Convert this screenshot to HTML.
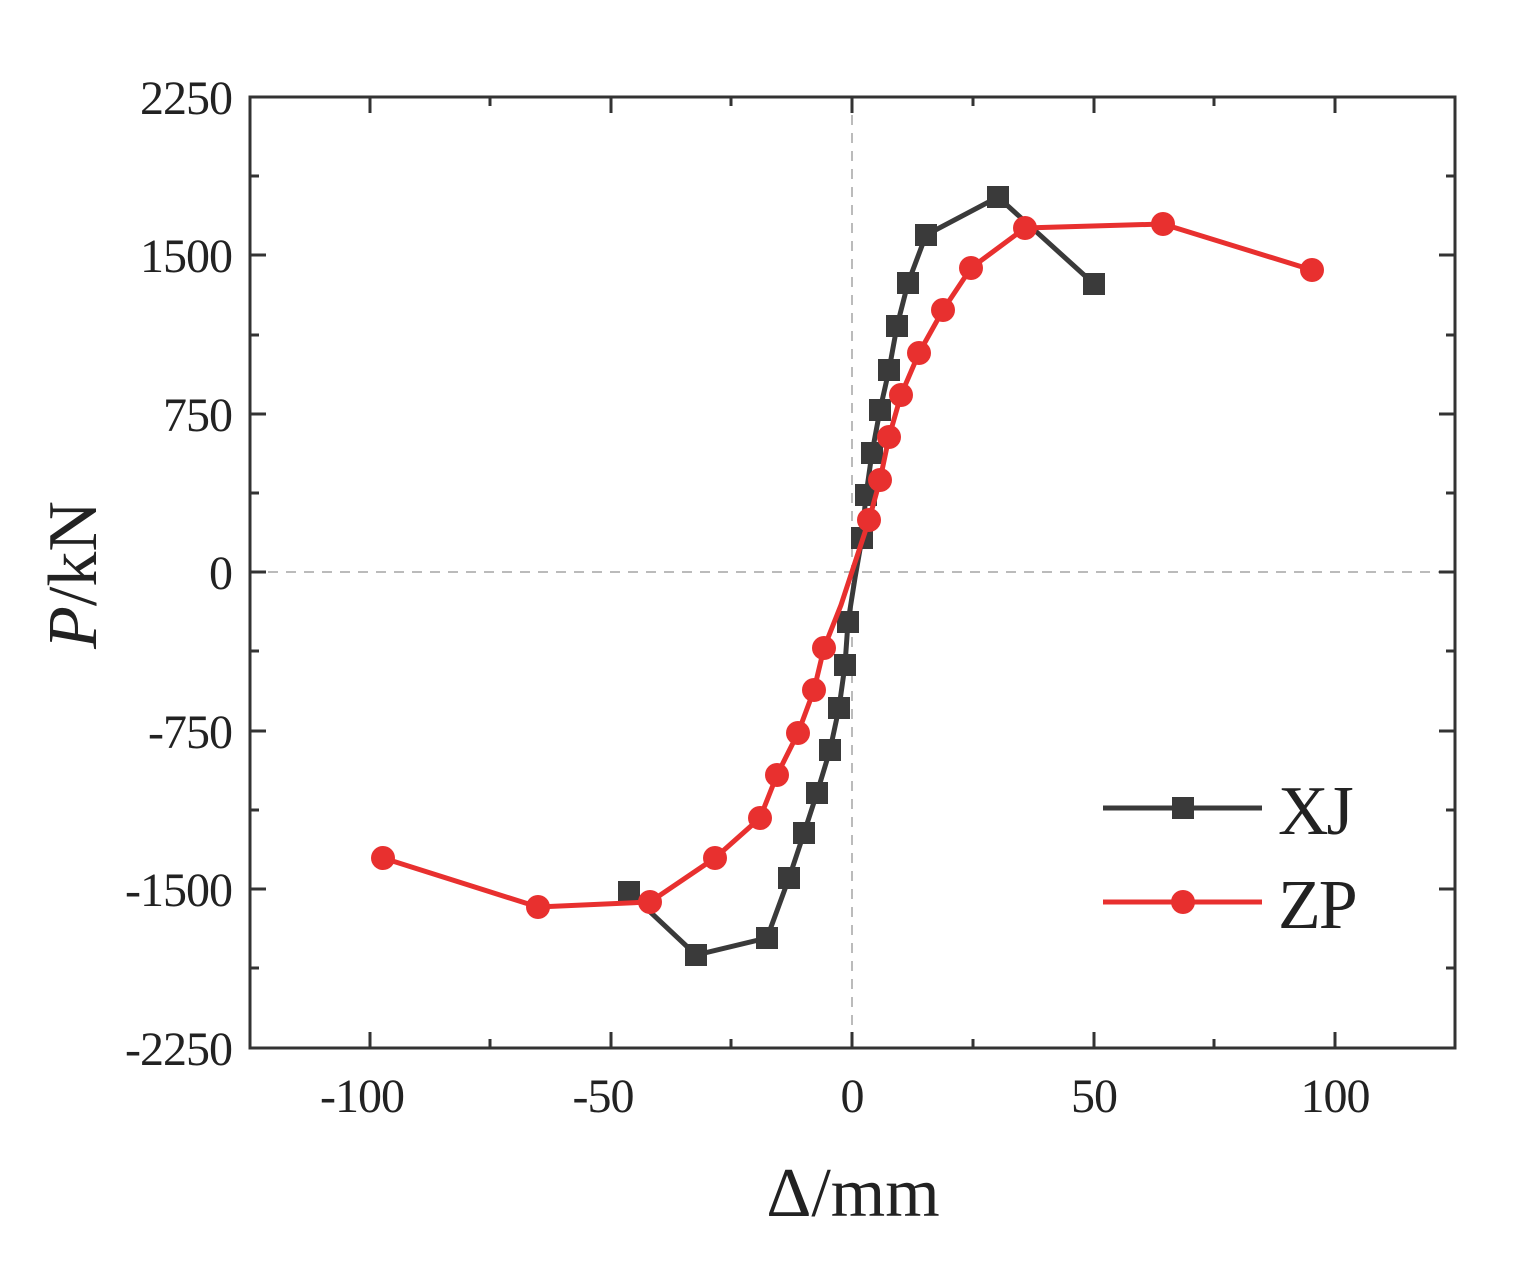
<!DOCTYPE html>
<html><head><style>body{margin:0;background:#fff}svg{display:block}</style></head><body>
<svg width="1519" height="1276" xmlns="http://www.w3.org/2000/svg" font-family="Liberation Serif, serif">
<rect width="1519" height="1276" fill="#fff"/>
<g stroke="#bbb" stroke-width="2" stroke-dasharray="10,8">
<line x1="852" y1="97" x2="852" y2="1048"/><line x1="250" y1="572" x2="1455" y2="572"/>
</g>
<rect x="250" y="97" width="1205" height="951" fill="none" stroke="#333" stroke-width="3"/>
<g stroke="#333" stroke-width="3">
<path d="M370 1048v-16M611 1048v-16M852 1048v-16M1094 1048v-16M1335 1048v-16M370 97v16M611 97v16M852 97v16M1094 97v16M1335 97v16
M490 1048v-9M731 1048v-9M973 1048v-9M1214 1048v-9M490 97v9M731 97v9M973 97v9M1214 97v9
M250 97h16M250 255h16M250 414h16M250 572h16M250 731h16M250 889h16M250 1048h16M1455 255h-16M1455 414h-16M1455 572h-16M1455 731h-16M1455 889h-16
M250 176h9M250 335h9M250 493h9M250 651h9M250 810h9M250 968h9M1455 176h-9M1455 335h-9M1455 493h-9M1455 651h-9M1455 810h-9M1455 968h-9"/>
</g>
<g font-size="48" fill="#222" text-anchor="end" letter-spacing="-1">
<text x="232" y="114">2250</text><text x="232" y="272">1500</text><text x="232" y="431">750</text><text x="232" y="589">0</text>
<text x="232" y="748">-750</text><text x="232" y="906">-1500</text><text x="232" y="1065">-2250</text>
</g>
<g font-size="48" fill="#222" text-anchor="middle" letter-spacing="-1">
<text x="362" y="1112">-100</text><text x="603" y="1112">-50</text><text x="852" y="1112">0</text><text x="1094" y="1112">50</text><text x="1335" y="1112">100</text>
</g>
<text x="853" y="1216" font-size="70" text-anchor="middle" fill="#222">Δ/mm</text>
<text transform="translate(96,575) rotate(-90)" font-size="70" text-anchor="middle" fill="#222"><tspan font-style="italic">P</tspan>/kN</text>
<polyline fill="none" stroke="#3a3a3a" stroke-width="5" points="629,892 696,955 767,938 789,878 804,833 817,793 830,750 839,708 845,665 848,622 855,578 862,538 866,495 872,453 880,410 889,370 897,326 908,283 926,235 998,197 1094,284"/>
<g fill="#3a3a3a">
<path d="M629,892m-11,-11h22v22h-22zM696,955m-11,-11h22v22h-22zM767,938m-11,-11h22v22h-22zM789,878m-11,-11h22v22h-22zM804,833m-11,-11h22v22h-22zM817,793m-11,-11h22v22h-22zM830,750m-11,-11h22v22h-22zM839,708m-11,-11h22v22h-22zM845,665m-11,-11h22v22h-22zM848,622m-11,-11h22v22h-22zM862,538m-11,-11h22v22h-22zM866,495m-11,-11h22v22h-22zM872,453m-11,-11h22v22h-22zM880,410m-11,-11h22v22h-22zM889,370m-11,-11h22v22h-22zM897,326m-11,-11h22v22h-22zM908,283m-11,-11h22v22h-22zM926,235m-11,-11h22v22h-22zM998,197m-11,-11h22v22h-22zM1094,284m-11,-11h22v22h-22z"/>
</g>
<polyline fill="none" stroke="#e8302f" stroke-width="5" points="383,858 538,907 650,902 715,858 760,818 777,775 798,733 814,690 824,648 841,605 869,520 880,480 889,437 901,395 919,353 943,310 971,268 1025,228 1163,224 1312,270"/>
<g fill="#e8302f">
<circle cx="383" cy="858" r="12"/><circle cx="538" cy="907" r="12"/><circle cx="650" cy="902" r="12"/><circle cx="715" cy="858" r="12"/><circle cx="760" cy="818" r="12"/><circle cx="777" cy="775" r="12"/><circle cx="798" cy="733" r="12"/><circle cx="814" cy="690" r="12"/><circle cx="824" cy="648" r="12"/><circle cx="869" cy="520" r="12"/><circle cx="880" cy="480" r="12"/><circle cx="889" cy="437" r="12"/><circle cx="901" cy="395" r="12"/><circle cx="919" cy="353" r="12"/><circle cx="943" cy="310" r="12"/><circle cx="971" cy="268" r="12"/><circle cx="1025" cy="228" r="12"/><circle cx="1163" cy="224" r="12"/><circle cx="1312" cy="270" r="12"/>
</g>
<line x1="1103" y1="808" x2="1262" y2="808" stroke="#3a3a3a" stroke-width="5"/>
<rect x="1172" y="797" width="22" height="22" fill="#3a3a3a"/>
<line x1="1103" y1="902" x2="1262" y2="902" stroke="#e8302f" stroke-width="5"/>
<circle cx="1183" cy="902" r="12" fill="#e8302f"/>
<text x="1278" y="834" font-size="70" fill="#222" letter-spacing="-2">XJ</text>
<text x="1278" y="928" font-size="70" fill="#222" letter-spacing="-2">ZP</text>
</svg>
</body></html>
